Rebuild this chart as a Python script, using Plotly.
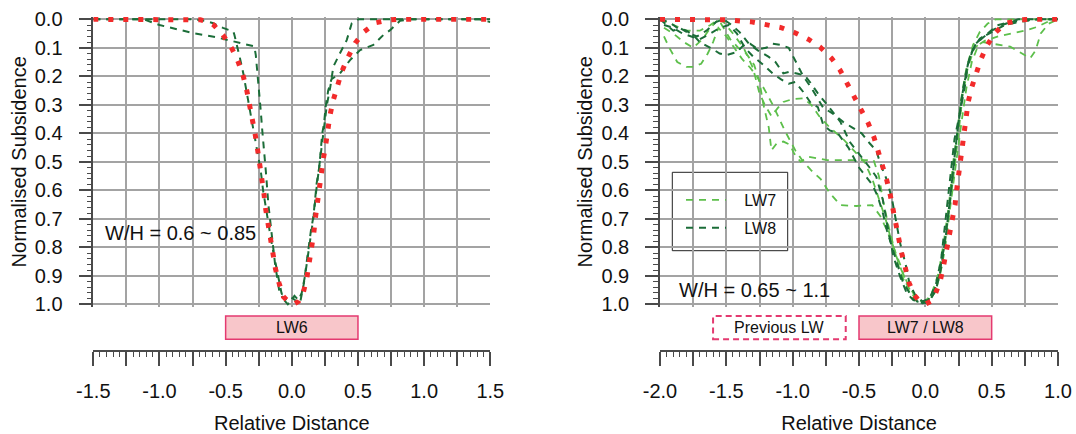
import plotly.graph_objects as go

# ---------------- data ----------------
# Left panel: LW6, predicted profile (red dotted)
lw6_pred_x = [-1.5, -1.2, -0.9, -0.75, -0.69, -0.64, -0.59, -0.52, -0.45, -0.404, -0.366, -0.34, -0.316,
              -0.291, -0.276, -0.258, -0.24, -0.225, -0.21, -0.197, -0.18, -0.164, -0.144, -0.124, -0.096,
              -0.064, -0.026, 0.017, 0.05, 0.087, 0.113, 0.133, 0.15, 0.166, 0.178, 0.191, 0.204, 0.219,
              0.238, 0.256, 0.272, 0.289, 0.314, 0.344, 0.377, 0.423, 0.478, 0.548, 0.637, 0.743, 0.8,
              1.0, 1.25, 1.5]
lw6_pred_y = [0, 0, 0, 0, 0.002, 0.008, 0.02, 0.055, 0.105, 0.151, 0.201, 0.25, 0.307,
              0.353, 0.406, 0.459, 0.511, 0.564, 0.614, 0.667, 0.718, 0.768, 0.821, 0.874, 0.926,
              0.973, 0.991, 0.999, 0.99, 0.959, 0.909, 0.856, 0.804, 0.751, 0.698, 0.648, 0.597, 0.543,
              0.491, 0.441, 0.388, 0.336, 0.283, 0.231, 0.184, 0.135, 0.084, 0.043, 0.012, 0.002, 0,
              0, 0, 0]

# Left panel: LW6 measured profiles (dark green dashed)
lw6_a_x = [-1.5, -1.12, -1.0, -0.87, -0.74, -0.58, -0.43, -0.33, -0.283, -0.272, -0.257, -0.248, -0.235,
           -0.225, -0.215, -0.195, -0.177, -0.152, -0.127, -0.094, -0.07, -0.051, -0.013, 0.024, 0.062,
           0.09, 0.11, 0.125, 0.145, 0.163, 0.178, 0.188, 0.208, 0.221, 0.23, 0.244, 0.255, 0.275, 0.3,
           0.364, 0.44, 0.516, 0.616, 0.692, 0.743, 0.818, 0.9, 1.1, 1.3, 1.42, 1.5]
lw6_a_y = [0, 0, 0.02, 0.035, 0.049, 0.062, 0.08, 0.091, 0.095, 0.126, 0.196, 0.255, 0.319,
           0.38, 0.43, 0.54, 0.65, 0.75, 0.856, 0.955, 0.975, 0.985, 0.973, 0.985, 0.996,
           0.93, 0.86, 0.798, 0.74, 0.693, 0.62, 0.575, 0.517, 0.459, 0.4, 0.365, 0.31, 0.25, 0.21,
           0.19, 0.143, 0.108, 0.09, 0.055, 0.038, 0.005, 0, 0, 0, 0, 0.01]
lw6_b_x = [-1.5, -1.0, -0.75, -0.66, -0.593, -0.52, -0.442, -0.434, -0.416, -0.391, -0.366, -0.34, -0.31,
           -0.285, -0.26, -0.235, -0.217, -0.197, -0.178, -0.158, -0.138, -0.118, -0.098, -0.078, -0.058,
           -0.03, -0.01, 0.02, 0.05, 0.075, 0.1, 0.12, 0.145, 0.165, 0.185, 0.205, 0.22, 0.235, 0.25,
           0.265, 0.29, 0.314, 0.364, 0.415, 0.453, 0.503, 0.8, 1.2, 1.5]
lw6_b_y = [0, 0, 0, 0.005, 0.014, 0.03, 0.043, 0.054, 0.086, 0.138, 0.191, 0.26, 0.33,
           0.4, 0.47, 0.53, 0.6, 0.66, 0.72, 0.77, 0.82, 0.87, 0.92, 0.96, 0.985,
           1.0, 0.99, 0.97, 0.985, 0.96, 0.9, 0.84, 0.76, 0.69, 0.6, 0.52, 0.46, 0.41, 0.36,
           0.3, 0.24, 0.166, 0.119, 0.073, 0.014, 0, 0, 0, 0]

# Right panel: LW7/LW8 predicted profile (red dotted)
lw78_pred_x = [-2.0, -1.75, -1.5, -1.31, -1.196, -1.088, -0.983, -0.882, -0.794, -0.706, -0.643, -0.593,
               -0.53, -0.48, -0.43, -0.387, -0.354, -0.322, -0.291, -0.266, -0.246, -0.221, -0.201, -0.178,
               -0.153, -0.123, -0.085, -0.04, 0.003, 0.04, 0.073, 0.111, 0.136, 0.161, 0.186, 0.206, 0.224,
               0.236, 0.25, 0.262, 0.274, 0.286, 0.306, 0.323, 0.349, 0.381, 0.417, 0.462, 0.525, 0.6,
               0.714, 0.8, 0.94, 1.0]
lw78_pred_y = [0, 0, 0.002, 0.009, 0.018, 0.029, 0.047, 0.07, 0.097, 0.137, 0.178, 0.222,
               0.271, 0.318, 0.365, 0.414, 0.464, 0.513, 0.564, 0.613, 0.667, 0.718, 0.768, 0.821,
               0.874, 0.924, 0.967, 0.991, 0.999, 0.99, 0.967, 0.92, 0.868, 0.809, 0.751, 0.704, 0.651,
               0.599, 0.55, 0.497, 0.445, 0.392, 0.34, 0.29, 0.24, 0.19, 0.143, 0.094, 0.048, 0.015,
               0.002, 0, 0, 0]

# Right panel: LW7 measured profiles (light green dashed)
lw7_1_x = [-1.97, -1.93, -1.87, -1.80, -1.75, -1.69, -1.64, -1.60, -1.56, -1.50, -1.44, -1.38, -1.32,
           -1.27, -1.22, -1.15, -1.06, -0.98, -0.92, -0.86, -0.79, -0.72, -0.64, -0.52, -0.40, -0.34,
           -0.29, -0.24, -0.19, -0.14, -0.09, -0.03, 0.02, 0.07, 0.11, 0.15, 0.19, 0.22, 0.25, 0.28, 0.32,
           0.37, 0.43, 0.50, 0.56, 0.64, 0.71, 0.79, 0.83, 0.87, 0.93, 1.0]
lw7_1_y = [0.06, 0.10, 0.15, 0.167, 0.167, 0.156, 0.12, 0.08, 0.03, 0.06, 0.10, 0.14, 0.17,
           0.20, 0.24, 0.30, 0.39, 0.46, 0.50, 0.53, 0.56, 0.61, 0.652, 0.655, 0.652, 0.69,
           0.74, 0.80, 0.86, 0.93, 0.97, 0.99, 0.985, 0.95, 0.88, 0.78, 0.64, 0.52, 0.40, 0.27, 0.17,
           0.10, 0.08, 0.086, 0.09, 0.096, 0.115, 0.137, 0.11, 0.05, 0.015, 0.0]
lw7_2_x = [-1.97, -1.90, -1.82, -1.75, -1.68, -1.62, -1.56, -1.52, -1.47, -1.41, -1.35, -1.29, -1.25,
           -1.22, -1.18, -1.16, -1.12, -1.07, -1.02, -0.99, -0.94, -0.88, -0.80, -0.74, -0.66, -0.59,
           -0.50, -0.39, -0.35, -0.32, -0.28, -0.24, -0.20, -0.15, -0.10, -0.05, 0.0, 0.05, 0.10, 0.14,
           0.18, 0.21, 0.24, 0.27, 0.31, 0.36, 0.41, 0.47, 0.53, 0.59, 0.70, 0.85, 1.0]
lw7_2_y = [0.03, 0.05, 0.08, 0.10, 0.07, 0.03, 0.0, 0.03, 0.07, 0.10, 0.12, 0.16, 0.22,
           0.30, 0.38, 0.46, 0.435, 0.429, 0.44, 0.47, 0.50, 0.482, 0.49, 0.494, 0.494, 0.494,
           0.494, 0.494, 0.55, 0.634, 0.72, 0.80, 0.87, 0.93, 0.975, 0.995, 0.99, 0.96, 0.89, 0.78,
           0.64, 0.50, 0.40, 0.28, 0.17, 0.09, 0.045, 0.015, 0.0, 0.0, 0.0, 0.0, 0.0]
lw7_3_x = [-2.0, -1.9, -1.8, -1.7, -1.62, -1.56, -1.52, -1.45, -1.37, -1.30, -1.25, -1.21, -1.16,
           -1.11, -1.07, -1.00, -0.92, -0.86, -0.80, -0.72, -0.62, -0.54, -0.46, -0.40, -0.35, -0.30,
           -0.26, -0.22, -0.18, -0.13, -0.08, -0.03, 0.02, 0.07, 0.11, 0.15, 0.19, 0.23, 0.27, 0.31,
           0.35, 0.40, 0.45, 0.55, 0.66, 0.75, 0.84, 0.89, 0.94, 1.0]
lw7_3_y = [0.0, 0.02, 0.04, 0.04, 0.02, 0.0, 0.01, 0.05, 0.10, 0.17, 0.26, 0.30, 0.34,
           0.31, 0.29, 0.28, 0.277, 0.30, 0.34, 0.38, 0.42, 0.46, 0.50, 0.56, 0.63, 0.70,
           0.77, 0.83, 0.88, 0.93, 0.97, 0.99, 0.99, 0.96, 0.90, 0.80, 0.65, 0.50, 0.37, 0.24,
           0.15, 0.09, 0.075, 0.06, 0.05, 0.04, 0.027, 0.015, 0.005, 0.0]

# Right panel: LW8 measured profiles (dark green dashed)
lw8_1_x = [-2.0, -1.93, -1.87, -1.80, -1.74, -1.70, -1.62, -1.55, -1.50, -1.42, -1.36, -1.32, -1.26,
           -1.20, -1.15, -1.09, -1.03, -0.99, -0.96, -0.92, -0.86, -0.81, -0.77, -0.70, -0.62, -0.55,
           -0.48, -0.42, -0.37, -0.34, -0.29, -0.25, -0.22, -0.19, -0.15, -0.12, -0.07, -0.02, 0.03,
           0.08, 0.12, 0.16, 0.20, 0.22, 0.26, 0.30, 0.32, 0.35, 0.41, 0.47, 0.54, 0.64, 0.81, 1.0]
lw8_1_y = [0.0, 0.01, 0.03, 0.04, 0.06, 0.08, 0.10, 0.12, 0.126, 0.115, 0.086, 0.086, 0.105,
           0.10, 0.086, 0.09, 0.10, 0.138, 0.161, 0.20, 0.24, 0.28, 0.31, 0.33, 0.36, 0.38,
           0.40, 0.435, 0.46, 0.505, 0.564, 0.634, 0.716, 0.786, 0.856, 0.926, 0.973, 0.99, 0.98,
           0.93, 0.84, 0.68, 0.50, 0.42, 0.33, 0.23, 0.16, 0.115, 0.068, 0.05, 0.021, 0.01, 0.0, 0.0]
lw8_2_x = [-2.0, -1.95, -1.90, -1.85, -1.78, -1.72, -1.65, -1.58, -1.52, -1.46, -1.40, -1.33, -1.26,
           -1.18, -1.13, -1.07, -1.03, -0.96, -0.91, -0.87, -0.81, -0.74, -0.64, -0.57, -0.47, -0.42,
           -0.37, -0.32, -0.28, -0.24, -0.19, -0.14, -0.09, -0.02, 0.03, 0.08, 0.12, 0.16, 0.20, 0.24,
           0.28, 0.32, 0.37, 0.44, 0.52, 0.60, 0.70, 0.85, 1.0]
lw8_2_y = [0.0, 0.02, 0.04, 0.03, 0.05, 0.06, 0.04, 0.01, 0.0, 0.02, 0.045, 0.086, 0.11,
           0.132, 0.15, 0.19, 0.185, 0.191, 0.197, 0.22, 0.26, 0.30, 0.36, 0.43, 0.488, 0.52,
           0.552, 0.634, 0.739, 0.833, 0.903, 0.961, 0.985, 0.996, 0.99, 0.95, 0.87, 0.74, 0.57, 0.40,
           0.26, 0.16, 0.09, 0.06, 0.04, 0.02, 0.01, 0.0, 0.0]
lw8_3_x = [-1.97, -1.90, -1.83, -1.77, -1.70, -1.62, -1.55, -1.48, -1.42, -1.36, -1.30, -1.22, -1.15,
           -1.09, -1.03, -0.98, -0.92, -0.86, -0.81, -0.77, -0.72, -0.66, -0.58, -0.50, -0.45, -0.40,
           -0.36, -0.32, -0.29, -0.25, -0.21, -0.17, -0.12, -0.06, 0.0, 0.05, 0.10, 0.14, 0.18, 0.21,
           0.24, 0.27, 0.30, 0.34, 0.38, 0.44, 0.50, 0.58, 0.70, 0.85, 1.0]
lw8_3_y = [0.02, 0.03, 0.05, 0.06, 0.07, 0.05, 0.03, 0.02, 0.05, 0.10, 0.13, 0.16, 0.19,
           0.21, 0.226, 0.22, 0.255, 0.296, 0.308, 0.37, 0.39, 0.40, 0.45, 0.52, 0.55, 0.58,
           0.62, 0.68, 0.74, 0.80, 0.86, 0.92, 0.96, 0.99, 0.995, 0.97, 0.91, 0.80, 0.66, 0.52,
           0.40, 0.29, 0.20, 0.126, 0.086, 0.062, 0.04, 0.02, 0.0, 0.0, 0.0]

# Panel labels and extents
left_range = [-1.5, 1.5]
right_range = [-2.0, 1.0]
left_wh = "W/H = 0.6 ~ 0.85"
right_wh = "W/H = 0.65 ~ 1.1"
lw6_panel = (-0.5, 0.5)
prev_panel = (-1.6, -0.6)
lw78_panel = (-0.5, 0.5)

# ---------------- styles ----------------
W, H = 1076, 434
FONT = "Liberation Sans, Arial, sans-serif"
RED = "#f22b2b"
DARK = "#1b6d38"
LIGHT = "#5dbf4b"
GRID = "#a3a3a3"
AX = "#4a4a4a"
PINK_FILL = "#f8c6ca"
PINK_LINE = "#e43a70"

def px_x(p):
    return p / W

def px_y(p):
    return 1 - p / H

PAD = 0.008
ppu = 285.0
y_dom = [px_y(304.3 + PAD * ppu), px_y(19.3 - PAD * ppu)]

fig = go.Figure()

def add_line(x, y, xa, ya, color, width, dash, name=None, show=False, group=None):
    fig.add_trace(go.Scatter(x=x, y=y, mode="lines", xaxis=xa, yaxis=ya,
                             line=dict(color=color, width=width, dash=dash),
                             name=name, showlegend=show, legendgroup=group,
                             hoverinfo="skip"))

GDASH = "7px,6px"
RDOT = "5px,10px"

add_line(lw6_a_x, lw6_a_y, "x", "y", DARK, 2, GDASH)
add_line(lw6_b_x, lw6_b_y, "x", "y", DARK, 2, GDASH)
add_line(lw6_pred_x, lw6_pred_y, "x", "y", RED, 5, RDOT)

NB = "\u00a0\u00a0\u00a0"
add_line(lw7_1_x, lw7_1_y, "x2", "y2", LIGHT, 1.8, GDASH, NB + "LW7", True, "lw7")
add_line(lw7_2_x, lw7_2_y, "x2", "y2", LIGHT, 1.8, GDASH, NB + "LW7", False, "lw7")
add_line(lw7_3_x, lw7_3_y, "x2", "y2", LIGHT, 1.8, GDASH, NB + "LW7", False, "lw7")
add_line(lw8_1_x, lw8_1_y, "x2", "y2", DARK, 2, GDASH, NB + "LW8", True, "lw8")
add_line(lw8_2_x, lw8_2_y, "x2", "y2", DARK, 2, GDASH, NB + "LW8", False, "lw8")
add_line(lw8_3_x, lw8_3_y, "x2", "y2", DARK, 2, GDASH, NB + "LW8", False, "lw8")
add_line(lw78_pred_x, lw78_pred_y, "x2", "y2", RED, 5, RDOT)


def xaxis_cfg(rng, dom):
    n = int(round((rng[1] - rng[0]) / 0.25))
    vals = [round(rng[0] + 0.25 * i, 2) for i in range(n + 1)]
    text = [f"{v:.1f}" if i % 2 == 0 else "" for i, v in enumerate(vals)]
    return dict(range=rng, domain=dom, anchor="free", position=px_y(351),
                showline=True, linecolor=AX, linewidth=1.5, mirror=False,
                ticks="outside", ticklen=14, tickwidth=1.5, tickcolor=AX,
                tickmode="array", tickvals=vals, ticktext=text,
                minor=dict(ticks="outside", ticklen=5, tickwidth=1, tickcolor=AX,
                           dtick=0.05, tick0=rng[0], showgrid=False),
                showgrid=True, gridcolor=GRID, gridwidth=1.5, zeroline=False,
                tickfont=dict(size=20, color="#111", family=FONT), ticklabelstandoff=8,
                title=dict(text="Relative Distance", font=dict(size=20, color="#111", family=FONT),
                           standoff=14),
                automargin=False, fixedrange=True)


def yaxis_cfg(anchor_x):
    return dict(range=[1.0 + PAD, 0.0 - PAD], domain=y_dom, anchor=anchor_x,
                showline=True, linecolor=AX, linewidth=1.5,
                ticks="outside", ticklen=13, tickwidth=1.5, tickcolor=AX,
                tickmode="linear", tick0=0, dtick=0.1, tickformat=".1f",
                minor=dict(ticks="outside", ticklen=5, tickwidth=1, tickcolor=AX,
                           dtick=0.02, tick0=0, showgrid=False),
                showgrid=True, gridcolor=GRID, gridwidth=1.5, zeroline=False,
                tickfont=dict(size=20, color="#111", family=FONT), ticklabelstandoff=12,
                title=dict(text="Normalised Subsidence", font=dict(size=20, color="#111", family=FONT),
                           standoff=3),
                automargin=False, fixedrange=True)


fig.update_layout(
    width=W, height=H, autosize=False,
    margin=dict(l=0, r=0, t=0, b=0),
    paper_bgcolor="white", plot_bgcolor="white",
    font=dict(family=FONT, color="#111"),
    xaxis=xaxis_cfg(left_range, [px_x(93.3), px_x(490.3)]),
    yaxis=yaxis_cfg("x"),
    xaxis2=xaxis_cfg(right_range, [px_x(660), px_x(1058)]),
    yaxis2=yaxis_cfg("x2"),
    showlegend=True,
    legend=dict(x=px_x(681), y=px_y(183), xanchor="left", yanchor="top",
                bgcolor="rgba(0,0,0,0)", borderwidth=0,
                font=dict(size=16, color="#111", family=FONT),
                itemwidth=40, tracegroupgap=4),
)

# legend frame
fig.add_shape(type="rect", xref="paper", yref="paper",
              x0=px_x(672.3), x1=px_x(787.7), y0=px_y(250.7), y1=px_y(172.3),
              line=dict(color="#222", width=1), fillcolor="white", layer="below")

# mining panel boxes
box_y0, box_y1 = px_y(339.3), px_y(316)
fig.add_shape(type="rect", xref="x", yref="paper", x0=lw6_panel[0], x1=lw6_panel[1],
              y0=box_y0, y1=box_y1, line=dict(color=PINK_LINE, width=1.5), fillcolor=PINK_FILL)
fig.add_shape(type="rect", xref="x2", yref="paper", x0=prev_panel[0], x1=prev_panel[1],
              y0=box_y0, y1=box_y1, line=dict(color=PINK_LINE, width=2, dash="6px,4px"),
              fillcolor="white")
fig.add_shape(type="rect", xref="x2", yref="paper", x0=lw78_panel[0], x1=lw78_panel[1],
              y0=box_y0, y1=box_y1, line=dict(color=PINK_LINE, width=1.5), fillcolor=PINK_FILL)

box_yc = (box_y0 + box_y1) / 2
for xr, panel, label in [("x", lw6_panel, "LW6"), ("x2", prev_panel, "Previous LW"),
                         ("x2", lw78_panel, "LW7 / LW8")]:
    fig.add_annotation(x=(panel[0] + panel[1]) / 2, y=box_yc, xref=xr, yref="paper",
                       text=label, showarrow=False, font=dict(size=16, color="#111", family=FONT),
                       xanchor="center", yanchor="middle")

fig.add_annotation(x=-1.425, y=0.75, xref="x", yref="y", text=left_wh, showarrow=False,
                   xanchor="left", yanchor="middle", font=dict(size=20, color="#111", family=FONT))
fig.add_annotation(x=-1.875, y=0.95, xref="x2", yref="y2", text=right_wh, showarrow=False,
                   xanchor="left", yanchor="middle", font=dict(size=20, color="#111", family=FONT))

fig.write_html("out.html")
